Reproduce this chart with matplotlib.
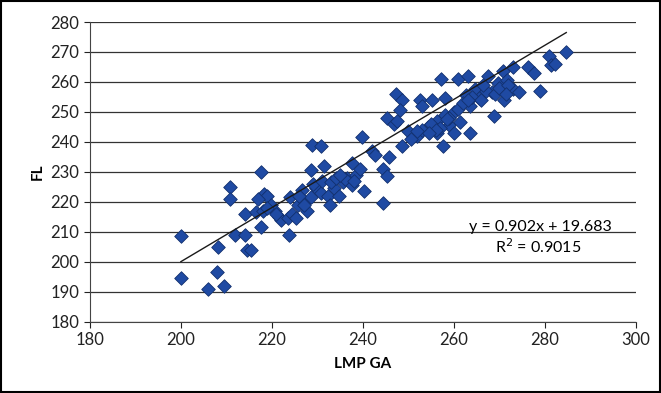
import numpy as np
import matplotlib
matplotlib.use("Agg")
import matplotlib.pyplot as plt

plt.rcParams['font.family'] = ['Lato', 'DejaVu Sans']

# LMP GA (x) and FL (y) values
lmp_ga = [200.1, 200.0, 206.0, 208.2, 208.0, 209.4, 210.8, 210.8, 212.0, 214.0,
          214.0, 214.6, 215.5, 217.6, 217.6, 216.5, 218.0, 218.3, 219.0, 219.7,
          220.6, 221.6, 222.0, 223.7, 223.5, 224.4, 225.3, 225.8, 226.7, 227.2,
          227.7, 228.6, 228.6, 228.9, 230.9, 231.4, 229.8, 230.9, 232.3, 232.8,
          233.7, 234.7, 235.6, 236.5, 237.5, 237.5, 238.4, 239.3, 239.8, 240.3,
          242.0, 242.6, 244.5, 244.5, 245.4, 245.7, 245.4, 246.8, 247.3, 248.7,
          248.2, 248.7, 250.0, 252.0, 252.5, 253.0, 255.2, 257.1, 254.3, 256.2,
          256.2, 257.6, 258.0, 258.0, 259.0, 260.0, 260.0, 261.3, 260.8, 263.2,
          263.6, 262.7, 263.6, 264.6, 265.5, 267.4, 268.3, 268.8, 269.7, 270.7,
          271.1, 271.6, 273.0, 273.0, 274.4, 276.2, 277.6, 279.0, 280.9, 281.4,
          282.3, 284.7,
          217.0, 219.0, 221.0, 224.0, 226.0, 229.0, 231.0, 233.0, 234.0, 236.0,
          238.0, 253.0, 255.0, 257.0, 259.0, 261.0, 262.0, 264.0, 266.0, 267.0,
          269.0, 270.0, 272.0, 250.5, 252.0, 256.0, 258.5, 263.0, 266.5, 271.5,
          247.5, 254.5, 227.0, 235.0]
fl = [208.5, 194.5, 191.0, 205.0, 196.5, 192.0, 225.0, 221.0, 209.0, 216.0,
      209.0, 204.0, 204.0, 230.0, 211.5, 216.5, 217.0, 222.5, 222.0, 219.0,
      217.0, 215.0, 214.0, 209.0, 214.5, 216.0, 214.5, 219.0, 224.0, 220.0,
      217.0, 221.5, 230.5, 239.0, 238.5, 232.0, 224.5, 223.0, 222.0, 219.0,
      224.5, 222.0, 226.5, 228.0, 233.0, 225.5, 229.0, 231.0, 241.5, 223.5,
      237.0, 235.5, 219.5, 231.0, 228.5, 235.0, 248.0, 246.0, 256.0, 254.0,
      250.5, 238.5, 243.5, 242.0, 254.0, 252.0, 254.0, 261.0, 245.0, 247.0,
      243.0, 238.5, 254.5, 249.0, 245.5, 250.0, 243.0, 246.5, 261.0, 262.0,
      243.0, 255.5, 252.0, 257.5, 254.5, 262.0, 256.5, 248.5, 259.5, 263.5,
      254.0, 260.5, 265.0, 257.5, 256.5, 265.0, 263.0, 257.0, 268.5, 265.5,
      266.0, 270.0,
      221.0, 218.0, 216.0, 221.5, 222.0, 226.0, 227.0, 226.5, 228.0, 227.5,
      227.0, 244.0, 246.0, 244.5, 248.0, 251.0, 253.0, 255.0, 254.0, 257.0,
      256.0, 258.0, 259.0, 241.0, 243.5, 244.0, 247.5, 254.0, 259.0, 256.0,
      247.0, 243.0, 219.0, 229.0]

slope, intercept = 0.902, 19.683
r2 = 0.9015

fig = plt.figure(figsize=(6.61, 3.93), dpi=100)
ax = fig.add_axes([0.136, 0.181, 0.826, 0.763])

ax.scatter(lmp_ga, fl, marker='D', s=48, color='#1f4aa3',
           edgecolor='#12306e', linewidth=0.6, zorder=3)

xs = np.array([min(lmp_ga), max(lmp_ga)])
ax.plot(xs, slope * xs + intercept, color='#1a1a1a', lw=1.0, zorder=4)

ax.set_xlim(180, 300)
ax.set_ylim(180, 280)
ax.set_xticks(range(180, 301, 20))
ax.set_yticks(range(180, 281, 10))
ax.yaxis.grid(True, color='#333333', lw=0.9)
ax.set_axisbelow(True)
for s in ['top', 'right']:
    ax.spines[s].set_visible(False)
for s in ['left', 'bottom']:
    ax.spines[s].set_color('#444444')
ax.tick_params(labelsize=12, colors='#222222', length=4)
ax.set_xlabel('LMP GA', fontsize=11, fontweight='bold', labelpad=6)
ax.set_ylabel('FL', fontsize=11, fontweight='bold', labelpad=4)

ax.text(279, 211.5, 'y = 0.902x + 19.683', ha='center', va='center', fontsize=11.5)
ax.text(278.5, 205, 'R$^2$ = 0.9015', ha='center', va='center', fontsize=11.5)

border = plt.Rectangle((0.002, 0.002), 0.996, 0.996, transform=fig.transFigure,
                       fill=False, edgecolor='black', lw=1.5)
fig.patches.append(border)

fig.savefig('out.png', dpi=100)
